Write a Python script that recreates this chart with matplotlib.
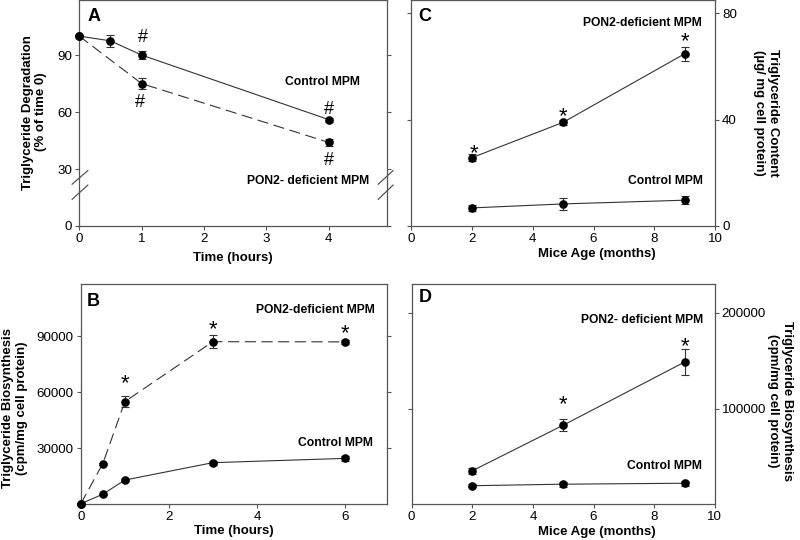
import numpy             as np
import matplotlib.pyplot as plt

plt.rcParams['font.family'] = ['Liberation Sans', 'DejaVu Sans']

# panel A - degradation
a_time      = [0, 0.5, 1, 4]
a_ctrl      = [100, 97.5, 90, 56]
a_ctrl_err  = [0, 3, 2, 1]
a_pon_time  = [0, 1, 4]
a_pon       = [100, 75, 44]
a_pon_err   = [0, 3, 2]

# panel B - biosynthesis over time
b_time      = [0, 0.5, 1, 3, 6]
b_ctrl      = [300, 5400, 13000, 22300, 24600]
b_ctrl_err  = [0, 300, 500, 1000, 1500]
b_pon       = [300, 21800, 55000, 87100, 87000]
b_pon_err   = [0, 500, 3000, 3500, 1000]

# panel C - content vs age
age         = [2, 5, 9]
c_ctrl      = [6.8, 8.3, 9.7]
c_ctrl_err  = [1.2, 2.2, 1.5]
c_pon       = [25.7, 39, 64.8]
c_pon_err   = [1.2, 1.0, 2.6]

# panel D - biosynthesis vs age
d_ctrl      = [19400, 21000, 22000]
d_ctrl_err  = [1500, 2500, 2500]
d_pon       = [35000, 82600, 148500]
d_pon_err   = [3000, 6000, 14000]

LINE  = '#333333'
SPINE = '#555555'
DASH  = (0, (10, 5))


def series(ax, x, y, err, ls = '-'):
    ax.errorbar(x, y, yerr = err, fmt = 'o', ls = ls, color = LINE, lw = 0.8,
                ms = 5.2, mfc = 'black', mec = 'black', ecolor = LINE,
                elinewidth = 0.8, capsize = 2.8, capthick = 0.8, clip_on = False,
                zorder = 3)


def style(ax, right_labels = False):
    for s in ax.spines.values():
        s.set_color(SPINE)
        s.set_linewidth(0.9)
    ax.tick_params(axis = 'both', labelsize = 9.6, color = SPINE, width = 0.8,
                   length = 3, direction = 'out', pad = 2)
    if right_labels:
        ax.yaxis.tick_right()
        ax.tick_params(axis = 'y', which = 'both', left = True, labelleft = False,
                       right = True, labelright = True)
    else:
        ax.tick_params(axis = 'y', right = True)
        for t in ax.yaxis.get_major_ticks():
            t.tick2line.set_marker(1)


def star(ax, x, y, s = '*', fs = 16):
    dy = -0.30 * fs if s == '*' else -0.05 * fs
    ax.annotate(s, (x, y), xytext = (0, dy), textcoords = 'offset points',
                ha = 'center', va = 'center', fontsize = fs)


def note(ax, x, y, s):
    ax.text(x, y, s, ha = 'center', va = 'center', fontsize = 8.7, fontweight = 'bold')


def letter(ax, s, x, y):
    ax.text(x, y, s, transform = ax.transAxes, ha = 'left', va = 'top',
            fontsize = 13, fontweight = 'bold')


def side_label(ax, x, y, s, rot):
    ax.text(x, y, s, transform = ax.transAxes, rotation = rot, ha = 'center', va = 'center',
            fontsize = 9.5, fontweight = 'bold', multialignment = 'center')


def plot_results():
    fig = plt.figure(figsize = (8, 5.4), dpi = 100)

    axA = fig.add_axes([0.099, 0.5815, 0.3846, 0.4185])
    axC = fig.add_axes([0.514, 0.5815, 0.380, 0.4185])
    axB = fig.add_axes([0.101, 0.0661, 0.3825, 0.408])
    axD = fig.add_axes([0.5146, 0.0661, 0.379, 0.408])

    # A
    series(axA, a_time, a_ctrl, a_ctrl_err)
    series(axA, a_pon_time, a_pon, a_pon_err, ls = DASH)
    axA.set_xlim(0, 4.93)
    axA.set_ylim(0, 119)
    axA.set_xticks([0, 1, 2, 3, 4])
    axA.set_yticks([0, 30, 60, 90])
    style(axA)
    axA.set_xlabel('Time (hours)', fontsize = 9.5, fontweight = 'bold', labelpad = 5)
    side_label(axA, -0.145, 0.504, 'Triglyceride Degradation\n(% of time 0)', 90)
    letter(axA, 'A', 0.026, 0.965)
    star(axA, 1.02, 99.5, '#', 13)
    star(axA, 0.98, 65.3, '#', 13)
    star(axA, 4.0, 62, '#', 13)
    star(axA, 4.0, 34.7, '#', 13)
    note(axA, 3.9, 75.8, 'Control MPM')
    note(axA, 3.66, 23.8, 'PON2- deficient MPM')
    for x0, x1 in [(-0.023, 0.028), (0.972, 1.020)]:
        for y0, y1 in [(0.185, 0.245), (0.118, 0.181)]:
            axA.plot([x0, x1], [y0, y1], color = SPINE, lw = 0.9,
                     transform = axA.transAxes, clip_on = False)

    # B
    series(axB, b_time, b_ctrl, b_ctrl_err)
    series(axB, b_time, b_pon, b_pon_err, ls = DASH)
    axB.set_xlim(0, 6.95)
    axB.set_ylim(0, 118000)
    axB.set_xticks([0, 2, 4, 6])
    axB.set_yticks([30000, 60000, 90000])
    style(axB)
    axB.set_xlabel('Time (hours)', fontsize = 9.5, fontweight = 'bold', labelpad = 1)
    side_label(axB, -0.215, 0.435, 'Triglyceride Biosynthesis\n(cpm/mg cell protein)', 90)
    letter(axB, 'B', 0.020, 0.96)
    star(axB, 1, 68400)
    star(axB, 3, 97100)
    star(axB, 6, 95000)
    note(axB, 5.32, 104100, 'PON2-deficient MPM')
    note(axB, 5.78, 32800, 'Control MPM')

    # C
    series(axC, age, c_ctrl, c_ctrl_err)
    series(axC, age, c_pon, c_pon_err)
    axC.set_xlim(0, 10)
    axC.set_ylim(0, 85)
    axC.set_xticks([0, 2, 4, 6, 8, 10])
    axC.set_yticks([0, 40, 80])
    style(axC, right_labels = True)
    axC.set_xlabel('Mice Age (months)', fontsize = 9.5, fontweight = 'bold')
    axC.xaxis.set_label_coords(0.612, -0.097)
    side_label(axC, 1.168, 0.50, 'Triglyceride Content\n(µg/ mg cell protein)', 270)
    letter(axC, 'C', 0.023, 0.965)
    star(axC, 2.08, 29.7)
    star(axC, 5.0, 43.6)
    star(axC, 9.0, 71.8)
    note(axC, 7.62, 76.3, 'PON2-deficient MPM')
    note(axC, 8.35, 16.9, 'Control MPM')

    # D
    series(axD, age, d_ctrl, d_ctrl_err)
    series(axD, age, d_pon, d_pon_err)
    axD.set_xlim(0, 10)
    axD.set_ylim(0, 230000)
    axD.set_xticks([0, 2, 4, 6, 8, 10])
    axD.set_yticks([100000, 200000])
    style(axD, right_labels = True)
    axD.set_xlabel('Mice Age (months)', fontsize = 9.5, fontweight = 'bold')
    axD.xaxis.set_label_coords(0.612, -0.098)
    side_label(axD, 1.215, 0.47, 'Triglyceride Biosynthesis\n(cpm/mg cell protein)', 270)
    letter(axD, 'D', 0.023, 0.975)
    star(axD, 5, 111000)
    star(axD, 9, 171900)
    note(axD, 7.59, 192000, 'PON2- deficient MPM')
    note(axD, 8.35, 40200, 'Control MPM')

    plt.savefig('out.png', format = 'png', dpi = 100)
    plt.close()


def main():
    plot_results()


if __name__ == "__main__":
    main()
